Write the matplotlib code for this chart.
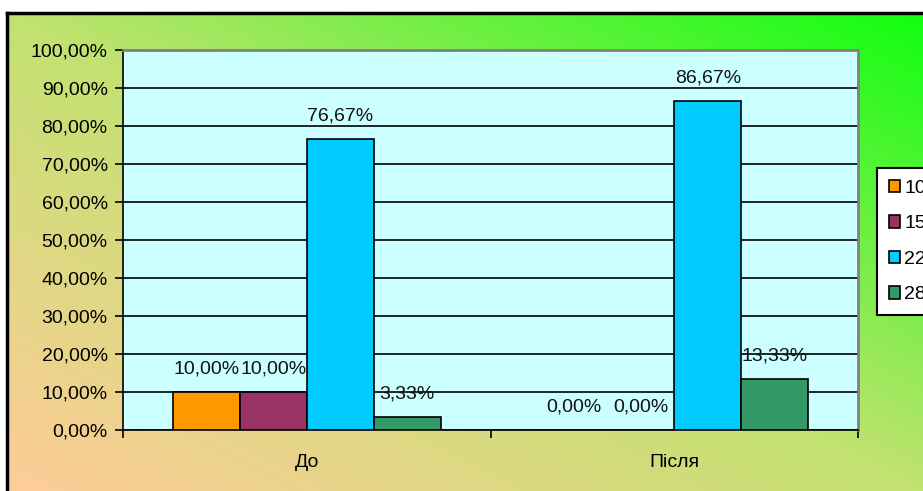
import numpy as np
import matplotlib.pyplot as plt
from matplotlib.colors import LinearSegmentedColormap
from matplotlib.patches import Patch

# --------------------------------
# DATA
# --------------------------------

categories = ["До", "Після"]
series_names = ["10", "15", "22", "28"]
series_values = [
    [10.00, 0.00],
    [10.00, 0.00],
    [76.67, 86.67],
    [3.33, 13.33],
]
series_colors = ["#FF9900", "#993366", "#00CCFF", "#339966"]

plt.rcParams['font.family'] = ['Liberation Sans', 'DejaVu Sans']
FS = 14

W, H = 923, 491
fig = plt.figure(figsize=(W / 100, H / 100), dpi=100)
fig.patch.set_facecolor("white")

# --------------------------------
# GRADIENT BACKGROUND
# --------------------------------

top_px = 13
left_px = 7
bg = fig.add_axes([left_px / W, 0, 1 - left_px / W, (H - top_px) / H])
cmap = LinearSegmentedColormap.from_list(
    "bg", [(0, "#FFCC99"), (0.5, "#C2E270"), (1, "#11FF11")])
u = np.linspace(0, 1, 300)
v = np.linspace(0, 1, 200)
U, V = np.meshgrid(u, v)
bg.imshow((U + V) / 2, cmap=cmap, origin="lower", aspect="auto",
          extent=[0, 1, 0, 1], vmin=0, vmax=1)
bg.set_xticks([])
bg.set_yticks([])
for side in ["right", "bottom"]:
    bg.spines[side].set_visible(False)
for side in ["top", "left"]:
    bg.spines[side].set_linewidth(2.5)
    bg.spines[side].set_color("black")

# --------------------------------
# PLOT AREA
# --------------------------------

ax = fig.add_axes([123 / W, 61 / H, 735 / W, 380 / H])
ax.set_facecolor("#CCFFFF")

x = np.arange(len(categories))
w = 0.182
offsets = (np.arange(len(series_names)) - 1.5) * w

for vals, name, col, off in zip(series_values, series_names, series_colors, offsets):
    bars = ax.bar(x + off, vals, width=w, color=col, edgecolor="black",
                  linewidth=1.2, label=name, zorder=3)
    for b, val in zip(bars, vals):
        ax.annotate(f"{val:.2f}%".replace(".", ","),
                    (b.get_x() + b.get_width() / 2, val),
                    xytext=(0, 16.5), textcoords="offset points",
                    ha="center", va="center", fontsize=FS, color="#111111",
                    zorder=4)

ax.set_xlim(-0.5, 1.5)
ax.set_ylim(0, 100)
ax.set_yticks(np.arange(0, 101, 10))
ax.set_yticklabels([f"{t:.2f}%".replace(".", ",") for t in np.arange(0, 101, 10)])
ax.yaxis.grid(True, color="black", linewidth=1.2, zorder=1)
ax.set_axisbelow(True)

ax.set_xticks(x)
ax.set_xticklabels(categories)
ax.set_xticks([-0.5, 0.5, 1.5], minor=True)
ax.tick_params(axis="x", which="major", length=0, pad=17, labelsize=FS)
ax.tick_params(axis="x", which="minor", length=6, width=1.2, direction="out")
ax.tick_params(axis="y", length=6, width=1.2, direction="out", pad=5, labelsize=FS)

ax.spines["left"].set_color("black")
ax.spines["bottom"].set_color("black")
ax.spines["left"].set_linewidth(1.2)
ax.spines["bottom"].set_linewidth(1.2)
ax.spines["top"].set_color("#808080")
ax.spines["right"].set_color("#808080")
ax.spines["top"].set_linewidth(2)
ax.spines["right"].set_linewidth(2)

# --------------------------------
# LEGEND (cut off at right edge, as in the source)
# --------------------------------

handles = [Patch(facecolor=c, edgecolor="black", linewidth=1.2) for c in series_colors]
leg = fig.legend(handles, series_names, loc="upper left",
                 bbox_to_anchor=(877 / W, 1 - 168 / H), fontsize=FS,
                 frameon=True, fancybox=False, handlelength=0.6,
                 handleheight=0.6, handletextpad=0.2, labelspacing=0.95,
                 borderpad=0.6, borderaxespad=0, edgecolor="black")
leg.get_frame().set_linewidth(1.5)
leg.get_frame().set_facecolor("white")
leg.get_frame().set_alpha(1)

fig.savefig("out.png", dpi=100)
